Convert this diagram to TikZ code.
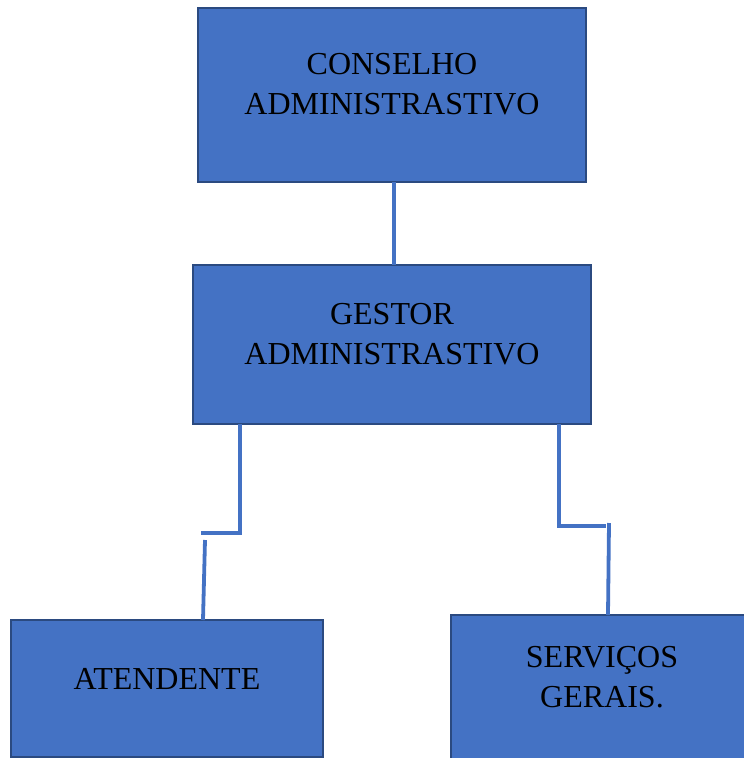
\documentclass[tikz,border=0pt]{standalone}
\usepackage{fontspec}
\setmainfont{Liberation Serif}
\definecolor{boxblue}{HTML}{4472C4}
\definecolor{boxedge}{HTML}{2B4A80}
\definecolor{linkblue}{HTML}{4472C4}
\tikzset{
  orgbox/.style={fill=boxblue, draw=boxedge, line width=2.5pt},
  orglabel/.style={align=center, text=black, font=\fontsize{32}{40}\selectfont, inner sep=0pt},
  link/.style={draw=linkblue, line width=3.8pt}
}
\begin{document}
\begin{tikzpicture}[x=1pt,y=-1pt]
\useasboundingbox (0,0) rectangle (744,758);
\clip (0,0) rectangle (744,758);
% boxes
\draw[orgbox] (198,8) rectangle (586,182);
\draw[orgbox] (193,265) rectangle (591,424);
\draw[orgbox] (11,620) rectangle (323,757);
\draw[orgbox] (451,615) rectangle (760,770);
\coordinate (b1s) at (394,182);
\coordinate (b2n) at (394,265);
\coordinate (b2l) at (240,424);
\coordinate (b2r) at (559,424);
\coordinate (b3n) at (203,620);
\coordinate (b4n) at (608,615);
% labels
\node[orglabel] (t1) at (392,84) {CONSELHO\\ADMINISTRASTIVO};
\node[orglabel] (t2) at (392,334) {GESTOR\\ADMINISTRASTIVO};
\node[orglabel] (t3) at (167,679) {ATENDENTE};
\node[orglabel] (t4) at (602,677) {SERVIÇOS\\GERAIS.};
% connectors
\draw[link] (b1s) -- (b2n);
\coordinate (l1) at (240,533);
\coordinate (l2) at (201,533);
\coordinate (l3) at (205,540);
\draw[link] (b2l) -- (l1) -- (l2);
\draw[link] (l3) -- (b3n);
\coordinate (r1) at (559,526);
\coordinate (r2) at (606,526);
\coordinate (r3) at (609,523);
\draw[link] (b2r) -- (r1) -- (r2);
\draw[link] (r3) -- (b4n);
\end{tikzpicture}
\end{document}
